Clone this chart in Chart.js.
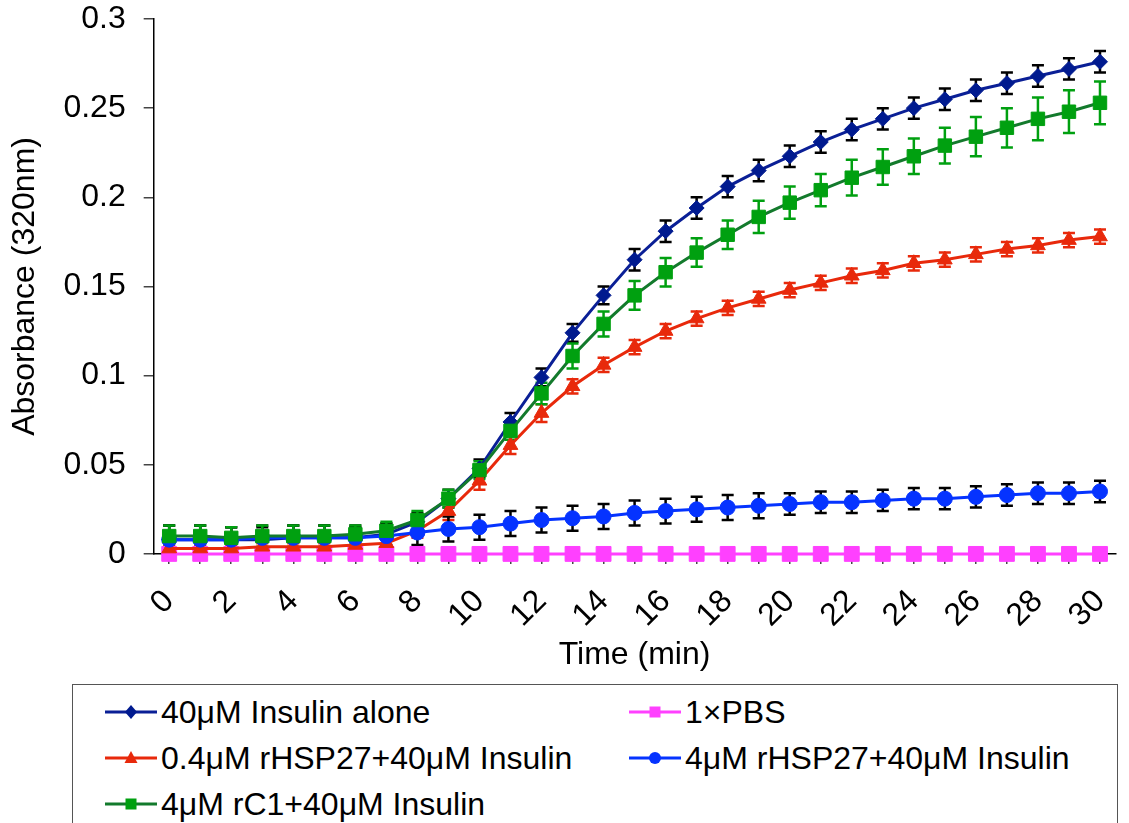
<!DOCTYPE html>
<html>
<head>
<meta charset="utf-8">
<script src="https://cdn.jsdelivr.net/npm/chart.js@4.4.0/dist/chart.umd.min.js"></script>
<style>
  body { margin:0; background:#fff; width:1129px; height:823px; overflow:hidden; position:relative; font-family:"Liberation Sans", Arial, sans-serif; }
  #wrap { position:absolute; left:0; top:0; width:1129px; height:680px; }
  #legend { position:absolute; left:72px; top:684px; width:1046px; height:170px; border:1px solid #555; box-sizing:border-box; }
  .item { position:absolute; display:flex; align-items:center; font-size:32px; color:#000; white-space:nowrap; height:40px; }
  .item svg { margin-right:4px; }
</style>
</head>
<body>
<div id="wrap"><canvas id="myChart"></canvas></div>
<div id="legend"></div>
<script>
const times = [0,1,2,3,4,5,6,7,8,9,10,11,12,13,14,15,16,17,18,19,20,21,22,23,24,25,26,27,28,29,30];

const insulinAlone = [0.008,0.008,0.008,0.008,0.009,0.009,0.009,0.011,0.018,0.031,0.048,0.074,0.099,0.124,0.145,0.165,0.181,0.194,0.206,0.215,0.223,0.231,0.238,0.244,0.250,0.255,0.260,0.264,0.268,0.272,0.276];
const insulinAloneErr = [0.008,0.008,0.007,0.007,0.007,0.007,0.006,0.006,0.005,0.005,0.005,0.005,0.005,0.005,0.005,0.006,0.006,0.006,0.006,0.006,0.006,0.006,0.006,0.006,0.006,0.006,0.006,0.006,0.006,0.006,0.006];

const pbs = [0,0,0,0,0,0,0,0,0,0,0,0,0,0,0,0,0,0,0,0,0,0,0,0,0,0,0,0,0,0,0];

const hsp27Low = [0.003,0.003,0.003,0.004,0.004,0.004,0.005,0.006,0.013,0.024,0.041,0.061,0.079,0.094,0.106,0.116,0.125,0.132,0.138,0.143,0.148,0.152,0.156,0.159,0.163,0.165,0.168,0.171,0.173,0.176,0.178];
const hsp27LowErr = [0.002,0.002,0.002,0.002,0.002,0.002,0.002,0.003,0.004,0.005,0.005,0.005,0.005,0.004,0.004,0.004,0.004,0.004,0.004,0.004,0.004,0.004,0.004,0.004,0.004,0.004,0.004,0.004,0.004,0.004,0.004];

const hsp27High = [0.008,0.008,0.008,0.009,0.009,0.009,0.009,0.010,0.012,0.014,0.015,0.017,0.019,0.020,0.021,0.023,0.024,0.025,0.026,0.027,0.028,0.029,0.029,0.030,0.031,0.031,0.032,0.033,0.034,0.034,0.035];
const hsp27HighErr = [0.008,0.008,0.007,0.007,0.007,0.007,0.007,0.007,0.007,0.007,0.007,0.007,0.007,0.007,0.007,0.007,0.007,0.007,0.007,0.007,0.006,0.006,0.006,0.006,0.006,0.006,0.006,0.006,0.006,0.006,0.006];

const rC1 = [0.010,0.010,0.009,0.010,0.010,0.010,0.011,0.013,0.019,0.031,0.047,0.069,0.090,0.111,0.129,0.145,0.158,0.169,0.179,0.189,0.197,0.204,0.211,0.217,0.223,0.229,0.234,0.239,0.244,0.248,0.253];
const rC1Err = [0.006,0.006,0.006,0.006,0.006,0.006,0.005,0.005,0.005,0.005,0.005,0.005,0.006,0.007,0.007,0.008,0.008,0.008,0.008,0.009,0.009,0.009,0.010,0.010,0.010,0.010,0.011,0.011,0.012,0.012,0.012];

const yTicks = [0, 0.05, 0.1, 0.15, 0.2, 0.25, 0.3];

// error bars drawn under the markers
const errorBars = {
  id: 'errorBars',
  beforeDatasetsDraw(chart) {
    const ctx = chart.ctx;
    const yScale = chart.scales.y;
    chart.data.datasets.forEach((ds, i) => {
      if (!ds.errors) return;
      const meta = chart.getDatasetMeta(i);
      ctx.save();
      ctx.strokeStyle = ds.errorColor;
      ctx.lineWidth = 2.5;
      meta.data.forEach((pt, j) => {
        const top = yScale.getPixelForValue(ds.data[j] + ds.errors[j]);
        const bot = yScale.getPixelForValue(ds.data[j] - ds.errors[j]);
        ctx.beginPath();
        ctx.moveTo(pt.x, top); ctx.lineTo(pt.x, bot);
        ctx.moveTo(pt.x - 6, top); ctx.lineTo(pt.x + 6, top);
        ctx.moveTo(pt.x - 6, bot); ctx.lineTo(pt.x + 6, bot);
        ctx.stroke();
      });
      ctx.restore();
    });
  }
};

const series = [
  { label: '40μM Insulin alone', data: insulinAlone, errors: insulinAloneErr, errorColor: '#000',
    line: '#0a1f96', fill: '#001a8f', style: 'rectRot', radius: 7.5, order: 3 },
  { label: '1×PBS', data: pbs, errors: null, errorColor: null,
    line: '#ff40ff', fill: '#ff40ff', style: 'rect', radius: 10.5, order: 4 },
  { label: '0.4μM rHSP27+40μM Insulin', data: hsp27Low, errors: hsp27LowErr, errorColor: '#e8290b',
    line: '#e8290b', fill: '#e8290b', style: 'triangle', radius: 8.5, order: 2 },
  { label: '4μM rHSP27+40μM Insulin', data: hsp27High, errors: hsp27HighErr, errorColor: '#000',
    line: '#0533ff', fill: '#0533ff', style: 'circle', radius: 7.5, order: 1 },
  { label: '4μM rC1+40μM Insulin', data: rC1, errors: rC1Err, errorColor: '#00a010',
    line: '#137a2c', fill: '#00a010', style: 'rect', radius: 9.5, order: 0 }
];

Chart.defaults.font.family = "'Liberation Sans', Arial, sans-serif";
Chart.defaults.font.size = 32;
Chart.defaults.color = '#000';

const ctx = document.getElementById('myChart');
new Chart(ctx, {
  type: 'line',
  data: {
    labels: times,
    datasets: series.map(s => ({
      label: s.label,
      data: s.data,
      errors: s.errors,
      errorColor: s.errorColor,
      borderColor: s.line,
      backgroundColor: s.fill,
      pointBackgroundColor: s.fill,
      pointBorderColor: s.fill,
      pointBorderWidth: 1,
      pointStyle: s.style,
      pointRadius: s.radius,
      borderWidth: 3,
      tension: 0,
      clip: false,
      order: s.order
    }))
  },
  options: {
    responsive: true,
    maintainAspectRatio: false,
    animation: false,
    layout: { padding: { left: 0, right: 13.5, top: 19, bottom: 2 } },
    plugins: { legend: { display: false }, tooltip: { enabled: false } },
    scales: {
      x: {
        offset: true,
        border: { color: '#000', width: 1.5 },
        grid: { drawOnChartArea: false, tickLength: 10, color: '#444', lineWidth: 1.5 },
        ticks: {
          autoSkip: false, minRotation: 45, maxRotation: 45, padding: 30,
          font: { size: 32, lineHeight: 0.2 },
          callback: (v, i) => (i % 2 ? '' : String(times[i]))
        },
        title: { display: true, text: 'Time (min)', font: { size: 32 }, padding: { top: 12, bottom: 4 } },
        afterFit: scale => { scale.paddingRight = 0; scale.paddingLeft = 0; scale.height -= 30; }
      },
      y: {
        min: 0, max: 0.3,
        afterBuildTicks: axis => { axis.ticks = yTicks.map(v => ({ value: v })); },
        border: { color: '#000', width: 1.5 },
        grid: { drawOnChartArea: false, tickLength: 10, color: '#444', lineWidth: 1.5 },
        ticks: { padding: 18, font: { size: 32 }, callback: v => String(v) },
        title: { display: true, text: 'Absorbance (320nm)', font: { size: 32 }, padding: { top: 6, bottom: 1 } },
        afterFit: scale => { scale.paddingTop = 0; }
      }
    }
  },
  plugins: [errorBars]
});

// legend laid out in two columns like the original
function markerSvg(s) {
  let shape = '';
  const c = s.fill;
  if (s.style === 'rectRot') shape = `<polygon points="26,3 32,10 26,17 20,10" fill="${c}"/>`;
  else if (s.style === 'rect') shape = `<rect x="20.5" y="4.5" width="11" height="11" fill="${c}"/>`;
  else if (s.style === 'triangle') shape = `<polygon points="26,3 32.5,15 19.5,15" fill="${c}"/>`;
  else shape = `<circle cx="26" cy="10" r="6" fill="${c}"/>`;
  return `<svg width="52" height="20"><line x1="0" y1="10" x2="52" y2="10" stroke="${s.line}" stroke-width="3"/>${shape}</svg>`;
}
const legendPos = [[32, 7], [556, 7], [32, 53], [556, 53], [32, 99]];
const legend = document.getElementById('legend');
series.forEach((s, i) => {
  const div = document.createElement('div');
  div.className = 'item';
  div.style.left = legendPos[i][0] + 'px';
  div.style.top = legendPos[i][1] + 'px';
  div.innerHTML = markerSvg(s) + '<span>' + s.label + '</span>';
  legend.appendChild(div);
});
</script>
</body>
</html>
